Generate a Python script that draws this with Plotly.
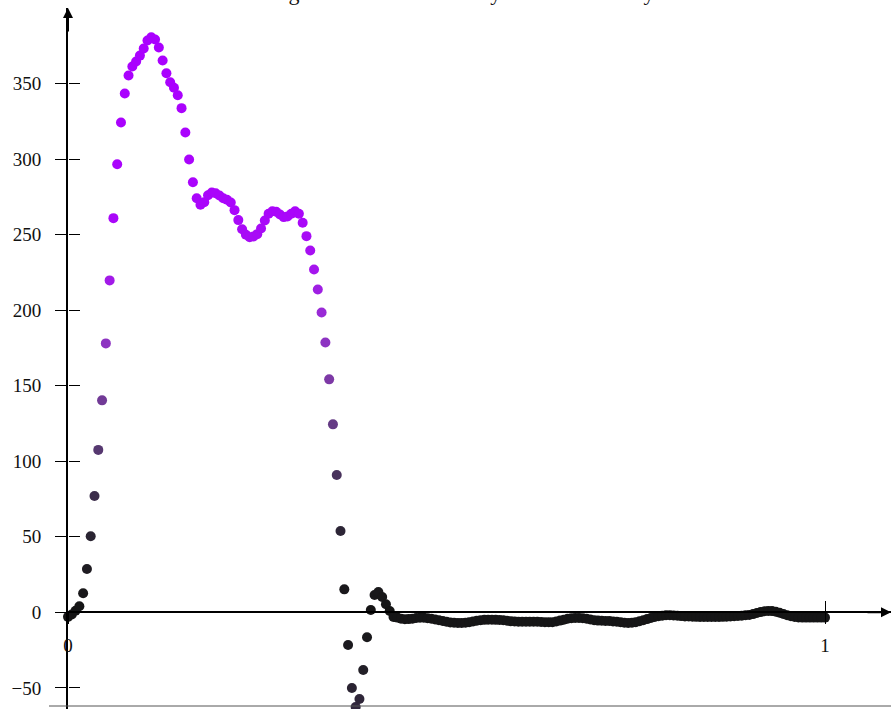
import numpy as np
import plotly.graph_objects as go

# sample positions (uniform grid 0..1)
x_vals = np.linspace(0, 1, 201)

y_vals = [
    -3.0, -1.5, 1.0, 4.0, 12.6, 28.7, 50.3, 77.0, 107.5, 140.3,
    178.0, 219.7, 260.9, 296.6, 324.2, 343.4, 355.3, 361.3, 364.6, 368.5,
    373.2, 378.5, 380.6, 379.1, 373.8, 365.2, 356.8, 350.9, 347.2, 342.3,
    333.7, 317.6, 299.7, 284.7, 274.1, 269.8, 271.5, 276.1, 277.9, 277.4,
    275.9, 274.1, 273.1, 271.3, 266.2, 259.6, 253.6, 249.9, 248.3, 248.8,
    250.3, 254.1, 259.4, 263.8, 265.5, 265.1, 263.3, 261.6, 262.0, 263.8,
    265.5, 263.8, 257.8, 249.0, 239.5, 226.9, 213.7, 198.5, 178.6, 154.2,
    124.4, 90.9, 53.8, 15.2, -21.6, -50.1, -62.7, -57.4, -38.2, -16.5,
    1.5, 11.5, 13.4, 10.1, 5.3, 0.9, -3.1,
    -3.5, -4.3, -4.6, -4.5, -4.2, -3.8, -3.6, -3.6, -3.9, -4.3,
    -4.8, -5.3, -5.8, -6.3, -6.7, -6.9, -7.0, -7.0, -6.9, -6.6,
    -6.1, -5.6, -5.2, -5.0, -4.9, -4.9, -5.0, -5.1, -5.3, -5.6,
    -5.9, -6.1, -6.2, -6.3, -6.3, -6.3, -6.3, -6.3, -6.4, -6.5,
    -6.6, -6.5, -6.1, -5.5, -4.9, -4.3, -3.9, -3.7, -3.7, -3.9,
    -4.3, -4.8, -5.2, -5.5, -5.6, -5.7, -5.8, -6.0, -6.3, -6.6,
    -6.9, -7.0, -6.9, -6.5, -5.9, -5.2, -4.5, -3.8, -3.1, -2.6,
    -2.2, -2.0, -2.0, -2.1, -2.3, -2.5, -2.7, -2.8, -2.9, -3.0,
    -3.1, -3.1, -3.1, -3.1, -3.1, -3.1, -3.0, -2.9, -2.8, -2.6,
    -2.4, -2.2, -2.0, -1.7, -1.2, -0.5, 0.2, 0.7, 0.9, 0.8,
    0.4, -0.3, -1.1, -1.9, -2.6, -3.1, -3.4, -3.5, -3.5, -3.5,
    -3.5, -3.5, -3.5, -3.5,
]

y_ticks = [-50, 0, 50, 100, 150, 200, 250, 300, 350]
x_ticks = [0, 1]
title_text = "Average Normalized Intensity of the Electricity"

FONT = "Liberation Serif"
Y_RANGE = [-64, 400]
X_RANGE = [0, 823 / 757]
zero_pos = (0 - Y_RANGE[0]) / (Y_RANGE[1] - Y_RANGE[0])

colorscale = [
    [0.0, "#141414"], [0.1, "#221f27"], [0.2, "#3b2d4a"], [0.3, "#5c3a78"],
    [0.4, "#7b3aa3"], [0.5, "#9530cf"], [0.6, "#a514ef"], [0.7, "#aa05fb"],
    [1.0, "#aa00ff"],
]

fig = go.Figure()
fig.add_trace(go.Scatter(
    x=x_vals, y=y_vals, mode="markers", cliponaxis=False,
    marker=dict(size=10, color=np.abs(y_vals), colorscale=colorscale,
                cmin=0, cmax=380, line=dict(width=0)),
    hoverinfo="skip", showlegend=False,
))
# invisible trace to host overlay axes (inside tick halves)
fig.add_trace(go.Scatter(x=[], y=[], xaxis="x2", yaxis="y2",
                         showlegend=False, hoverinfo="skip"))

axis_font = dict(family=FONT, size=19, color="#111")
fig.update_layout(
    width=891, height=709,
    margin=dict(l=68, r=0, t=8, b=0),
    paper_bgcolor="white", plot_bgcolor="white",
    font=dict(family=FONT, color="#111"),
    title=dict(text=title_text, font=dict(family=FONT, size=22, color="#111"),
               x=0.5, xref="container", xanchor="center",
               y=1.0, yref="container", yanchor="bottom"),
    xaxis=dict(range=X_RANGE, anchor="free", position=zero_pos,
               showline=True, linecolor="black", linewidth=2,
               ticks="outside", ticklen=11, tickwidth=1.2, tickcolor="black",
               tickvals=x_ticks, ticktext=[str(v) for v in x_ticks],
               tickfont=axis_font, ticklabelstandoff=5,
               showgrid=False, zeroline=False),
    yaxis=dict(range=Y_RANGE, showline=True, linecolor="black", linewidth=2,
               ticks="outside", ticklen=11, tickwidth=1.2, tickcolor="black",
               tickvals=y_ticks, tickfont=axis_font, ticklabelstandoff=10,
               showgrid=False, zeroline=False),
    xaxis2=dict(range=X_RANGE, overlaying="x", anchor="free", position=zero_pos,
                ticks="inside", ticklen=11, tickwidth=1.2, tickcolor="black",
                tickvals=x_ticks, showticklabels=False, showgrid=False,
                zeroline=False, showline=False),
    yaxis2=dict(range=Y_RANGE, overlaying="y", anchor="free", position=0,
                side="left", ticks="inside", ticklen=11, tickwidth=1.2,
                tickcolor="black", tickvals=y_ticks, showticklabels=False,
                showgrid=False, zeroline=False, showline=False),
    shapes=[dict(type="line", xref="paper", yref="paper",
                 x0=(49 - 68) / 823, x1=1, y0=3 / 701, y1=3 / 701,
                 line=dict(color="#555", width=1))],
    annotations=[
        dict(x=0, y=Y_RANGE[1], xref="x", yref="y", text="", showarrow=True,
             arrowhead=2, arrowsize=1, arrowwidth=2, arrowcolor="black",
             ax=0, ay=25),
        dict(x=X_RANGE[1], y=0, xref="x", yref="y", text="", showarrow=True,
             arrowhead=2, arrowsize=1, arrowwidth=2, arrowcolor="black",
             ax=-25, ay=0),
    ],
)

fig.write_html("out.html",
               config={"displayModeBar": False},
               post_script="document.body.style.margin='0';"
                           "document.body.style.overflow='hidden';")
